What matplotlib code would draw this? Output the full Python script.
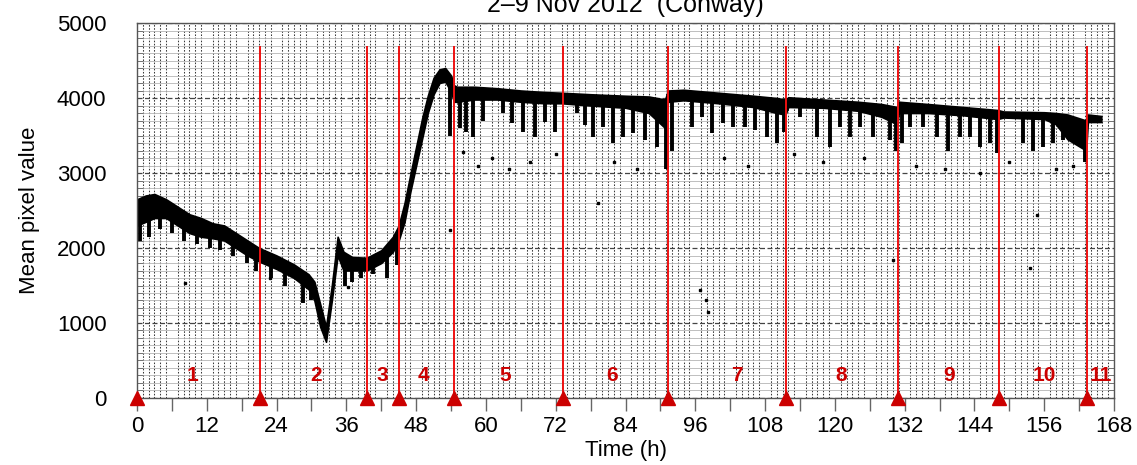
import numpy as np
import matplotlib.pyplot as plt
from matplotlib.ticker import FixedLocator, FuncFormatter, MultipleLocator

plt.rcParams['font.family'] = ['Liberation Sans', 'DejaVu Sans']

# Main band of the pixel-value series (hour, upper edge, lower edge)
band_hours = [0, 1.5, 3, 5, 7, 9, 11, 13, 15, 17, 19, 21, 24, 27, 29.5, 30.5, 31.5, 32.5,
              33.5, 34.5, 35.5, 37, 39.5, 42, 44, 45, 46, 47, 48, 49, 50, 51, 52, 53, 54,
              54.5, 55, 58, 62, 66, 70, 73, 78, 84, 88, 90.8, 91.3, 94, 100, 106, 110,
              111.5, 112, 118, 124, 128, 130.7, 131, 136, 142, 148, 149, 156, 158, 160,
              163.2, 163.5, 165.8]
band_upper = [2650, 2700, 2720, 2650, 2550, 2450, 2400, 2330, 2300, 2200, 2100, 2000, 1900,
              1780, 1650, 1550, 1250, 950, 1500, 2150, 1950, 1880, 1870, 1970, 2150, 2300,
              2600, 2980, 3350, 3720, 4030, 4270, 4380, 4400, 4300, 4170, 4150, 4150, 4130,
              4100, 4080, 4070, 4050, 4030, 4020, 3980, 4100, 4110, 4070, 4030, 4000, 3980,
              4010, 3980, 3950, 3920, 3880, 3950, 3920, 3880, 3840, 3820, 3810, 3800, 3780,
              3700, 3780, 3760]
band_lower = [2300, 2350, 2400, 2400, 2300, 2200, 2150, 2130, 2100, 2000, 1900, 1820, 1720,
              1600, 1450, 1300, 950, 750, 1300, 1900, 1700, 1700, 1700, 1800, 1950, 2100,
              2350, 2750, 3100, 3450, 3800, 4050, 4200, 4220, 4080, 3950, 3950, 3980, 3980,
              3950, 3930, 3930, 3900, 3870, 3800, 3600, 3950, 3970, 3930, 3880, 3800, 3780,
              3880, 3870, 3830, 3750, 3650, 3800, 3800, 3770, 3720, 3740, 3720, 3650, 3450,
              3300, 3680, 3680]

# Downward spikes (hour, lowest value)
spike_hours = [0.5, 2, 4, 6, 8, 10.3, 12.5, 14.3, 16.5, 18.9, 20.5, 23, 25.5, 28.5, 30,
               35.8, 37, 38.5, 40.5, 43, 44.7, 53.8, 55.5, 56.5, 57.8, 59.5, 62.9, 64.5,
               66.4, 68.4, 70.2, 71.9, 75.7, 77.0, 78.4, 80.1, 81.9, 83.6, 85.3, 87.4,
               89.4, 90.9, 92, 95.4, 97.2, 98.9, 100.8, 102.5, 104.6, 106.3, 108.3, 110.1,
               111.3, 114.0, 116.9, 119.2, 120.9, 122.6, 124.3, 126.6, 129.5, 130.5, 131.6,
               132.9, 135.2, 137.6, 139.5, 141.5, 143.2, 145.0, 146.7, 147.9, 152.4, 154.1,
               155.8, 157.5, 159.2, 163]
spike_lows = [2100, 2150, 2250, 2200, 2100, 2050, 2000, 1980, 1900, 1800, 1700, 1600, 1500,
              1270, 1300, 1500, 1550, 1600, 1650, 1600, 1770, 3500, 3600, 3550, 3480, 3700,
              3800, 3670, 3550, 3480, 3680, 3550, 3800, 3640, 3480, 3610, 3400, 3480, 3530,
              3440, 3350, 3050, 3300, 3610, 3750, 3530, 3670, 3610, 3610, 3570, 3480, 3400,
              3550, 3750, 3480, 3350, 3610, 3480, 3610, 3480, 3440, 3300, 3400, 3610, 3610,
              3480, 3300, 3480, 3480, 3350, 3400, 3270, 3400, 3300, 3350, 3400, 3440, 3150]

# Isolated stray points (hour, value)
stray_hours = [8.3, 22.9, 28.4, 36.3, 53.8, 56, 58.6, 61, 64, 67.5, 72, 79.3, 82, 86,
               96.8, 97.8, 98.2, 101, 105, 113, 118, 125, 130, 134, 139, 145, 150, 153.6,
               154.8, 158, 161]
stray_values = [1530, 1600, 1300, 1480, 2240, 3280, 3100, 3200, 3050, 3150, 3250, 2600, 3150,
                3050, 1440, 1300, 1150, 3200, 3100, 3250, 3150, 3200, 1840, 3100, 3050, 3000,
                3150, 1730, 2440, 3050, 3100]

# Period boundaries (hours) and period labels
boundary_hours = [21.15, 39.5, 45.1, 54.5, 73.3, 91.3, 111.6, 130.8, 148.3, 163.4]
marker_hours = [0] + boundary_hours
period_labels = ['1', '2', '3', '4', '5', '6', '7', '8', '9', '10', '11']
label_hours = [9.6, 30.8, 42.1, 49.2, 63.3, 81.7, 103.2, 121.1, 139.6, 156.0, 165.8]

fig = plt.figure(figsize=(11.37, 4.65), dpi=100)
ax = fig.add_axes([0.1205, 0.1441, 0.8593, 0.8064])

# Grid
ax.xaxis.set_minor_locator(MultipleLocator(1))
ax.yaxis.set_minor_locator(MultipleLocator(100))
ax.grid(which='minor', axis='y', color='#b4b4b4', ls='-', lw=0.6)
ax.grid(which='minor', axis='x', color='#3a3a3a', ls=(0, (1.5, 1.5)), lw=0.75)
ax.grid(which='major', axis='y', color='#444444', ls=(0, (4, 2)), lw=0.9)
ax.set_axisbelow(True)

# Data
ax.fill_between(band_hours, band_lower, band_upper, color='black', lw=1.2, edgecolor='black')
spike_tops = np.interp(spike_hours, band_hours, band_lower) + 50
ax.vlines(spike_hours, spike_lows, spike_tops, color='black', lw=2.8)
ax.plot(stray_hours, stray_values, 's', color='black', ms=2)

# Period boundaries
ax.vlines(boundary_hours, 0, 4700, color='#ee1111', lw=1.4)
ax.plot(marker_hours, [0] * len(marker_hours), '^', color='#cc0000', ms=10,
        clip_on=False, zorder=5)
for h, lab in zip(label_hours, period_labels):
    ax.text(h, 300, lab, color='#cc0000', fontsize=15, fontweight='bold',
            ha='center', va='center')

ax.set_xlim(0, 168)
ax.set_ylim(0, 5000)
ax.xaxis.set_major_locator(FixedLocator(np.arange(0, 169, 6)))
ax.xaxis.set_major_formatter(FuncFormatter(lambda v, p: '%d' % v if v % 12 == 0 else ''))
ax.yaxis.set_major_locator(MultipleLocator(1000))
ax.tick_params(axis='x', which='major', direction='out', length=9, width=1,
               color='#666666', labelsize=16, pad=4)
ax.tick_params(axis='x', which='minor', length=0)
ax.tick_params(axis='y', which='major', direction='in', length=0, labelsize=16, pad=22,
               right=True)
ax.tick_params(axis='y', which='minor', direction='in', length=4, color='#666666',
               right=True)
for s in ax.spines.values():
    s.set_color('#555555')
    s.set_linewidth(1.0)

ax.set_xlabel('Time (h)', fontsize=16, labelpad=2)
ax.set_ylabel('Mean pixel value', fontsize=16, labelpad=12)
fig.text(0.55, 0.99, '2\u20139 Nov 2012  (Conway)', fontsize=18, ha='center', va='center')

fig.savefig('out.png', dpi=100)
